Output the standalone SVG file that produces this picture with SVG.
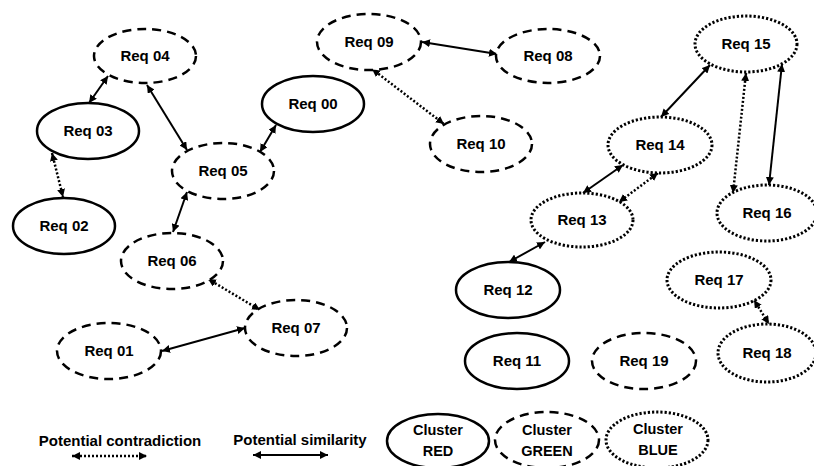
<svg xmlns="http://www.w3.org/2000/svg" width="814" height="466" viewBox="0 0 814 466">
<style>
  text { font-family: "Liberation Sans", Arial, sans-serif; font-weight: bold; font-size: 15px; fill: #000; text-anchor: middle; }
  .lg { font-size: 15px; }
  .cl { font-size: 14.5px; }
  ellipse { fill: #fff; stroke: #000; stroke-width: 2.5; }
  .green { stroke-dasharray: 9 6; }
  .blue { stroke-dasharray: 2.2 2; stroke-width: 3; }
  .sim { stroke: #000; stroke-width: 2; fill: none; marker-start: url(#ah); marker-end: url(#ah); }
  .con { stroke: #000; stroke-width: 2.5; fill: none; stroke-dasharray: 2 2; marker-start: url(#ah); marker-end: url(#ah); }
</style>
<defs>
  <marker id="ah" markerUnits="userSpaceOnUse" markerWidth="9" markerHeight="8" refX="8" refY="4" orient="auto-start-reverse">
    <path d="M0,0 L8,4 L0,8 Z" fill="#000"/>
  </marker>
</defs>
<rect width="814" height="466" fill="#fff"/>

<g id="connectors">
  <line class="sim" x1="108" y1="76" x2="89" y2="103"/>
  <line class="sim" x1="147" y1="85" x2="187" y2="150"/>
  <line class="con" x1="52" y1="153" x2="63" y2="197"/>
  <line class="sim" x1="276" y1="125" x2="260" y2="152"/>
  <line class="sim" x1="187" y1="192" x2="173" y2="232"/>
  <line class="sim" x1="422" y1="42" x2="497" y2="54"/>
  <line class="con" x1="372" y1="69" x2="444" y2="124"/>
  <line class="sim" x1="710" y1="65" x2="661" y2="117"/>
  <line class="con" x1="746" y1="73" x2="733" y2="193"/>
  <line class="sim" x1="782" y1="64" x2="769" y2="185"/>
  <line class="sim" x1="623" y1="165" x2="583" y2="193"/>
  <line class="con" x1="658" y1="173" x2="619" y2="202"/>
  <line class="sim" x1="545" y1="242" x2="509" y2="262"/>
  <line class="con" x1="208" y1="279" x2="260" y2="310"/>
  <line class="sim" x1="162" y1="351" x2="245" y2="328"/>
  <line class="con" x1="754" y1="300" x2="769" y2="324"/>
</g>

<g id="req00"><ellipse class="red" cx="313" cy="104" rx="51" ry="28"/><text x="313" y="109">Req 00</text></g>
<g id="req01"><ellipse class="green" cx="109" cy="351" rx="52" ry="28"/><text x="109" y="356">Req 01</text></g>
<g id="req02"><ellipse class="red" cx="64" cy="226" rx="51" ry="28"/><text x="64" y="231">Req 02</text></g>
<g id="req03"><ellipse class="red" cx="88" cy="131" rx="51" ry="28"/><text x="88" y="136">Req 03</text></g>
<g id="req04"><ellipse class="green" cx="145" cy="56" rx="51" ry="27"/><text x="145" y="61">Req 04</text></g>
<g id="req05"><ellipse class="green" cx="223" cy="171" rx="51" ry="28"/><text x="223" y="176">Req 05</text></g>
<g id="req06"><ellipse class="green" cx="172" cy="261" rx="51" ry="28"/><text x="172" y="266">Req 06</text></g>
<g id="req07"><ellipse class="green" cx="296" cy="328" rx="51" ry="28"/><text x="296" y="333">Req 07</text></g>
<g id="req08"><ellipse class="green" cx="548" cy="56" rx="52" ry="27"/><text x="548" y="61">Req 08</text></g>
<g id="req09"><ellipse class="green" cx="369" cy="42" rx="52" ry="28"/><text x="369" y="47">Req 09</text></g>
<g id="req10"><ellipse class="green" cx="481" cy="144" rx="51" ry="28"/><text x="481" y="149">Req 10</text></g>
<g id="req11"><ellipse class="red" cx="517" cy="361" rx="52" ry="28"/><text x="517" y="366">Req 11</text></g>
<g id="req12"><ellipse class="red" cx="508" cy="290" rx="52" ry="28"/><text x="508" y="295">Req 12</text></g>
<g id="req13"><ellipse class="blue" cx="582" cy="220" rx="51" ry="27"/><text x="582" y="225">Req 13</text></g>
<g id="req14"><ellipse class="blue" cx="660" cy="145" rx="52" ry="28"/><text x="660" y="150">Req 14</text></g>
<g id="req15"><ellipse class="blue" cx="746" cy="44" rx="51" ry="28"/><text x="746" y="49">Req 15</text></g>
<g id="req16"><ellipse class="blue" cx="767" cy="213" rx="50" ry="28"/><text x="767" y="218">Req 16</text></g>
<g id="req17"><ellipse class="blue" cx="719" cy="280" rx="52" ry="28"/><text x="719" y="285">Req 17</text></g>
<g id="req18"><ellipse class="blue" cx="767" cy="353" rx="49" ry="29"/><text x="767" y="358">Req 18</text></g>
<g id="req19"><ellipse class="green" cx="644" cy="361" rx="52" ry="28"/><text x="644" y="366">Req 19</text></g>

<g id="legend">
  <text class="lg" x="120" y="446">Potential contradiction</text>
  <line class="con" x1="72" y1="456" x2="147" y2="456"/>
  <text class="lg" x="300" y="445">Potential similarity</text>
  <line class="sim" x1="253" y1="455" x2="328" y2="455"/>
  <g id="cluster-red"><ellipse class="red" cx="438" cy="441" rx="51" ry="27"/><text class="cl" x="438" y="435">Cluster</text><text class="cl" x="438" y="456">RED</text></g>
  <g id="cluster-green"><ellipse class="green" cx="547" cy="440" rx="52" ry="28"/><text class="cl" x="547" y="435">Cluster</text><text class="cl" x="547" y="456">GREEN</text></g>
  <g id="cluster-blue"><ellipse class="blue" cx="657" cy="440" rx="51" ry="28"/><text class="cl" x="658" y="434">Cluster</text><text class="cl" x="658" y="455">BLUE</text></g>
</g>
</svg>
